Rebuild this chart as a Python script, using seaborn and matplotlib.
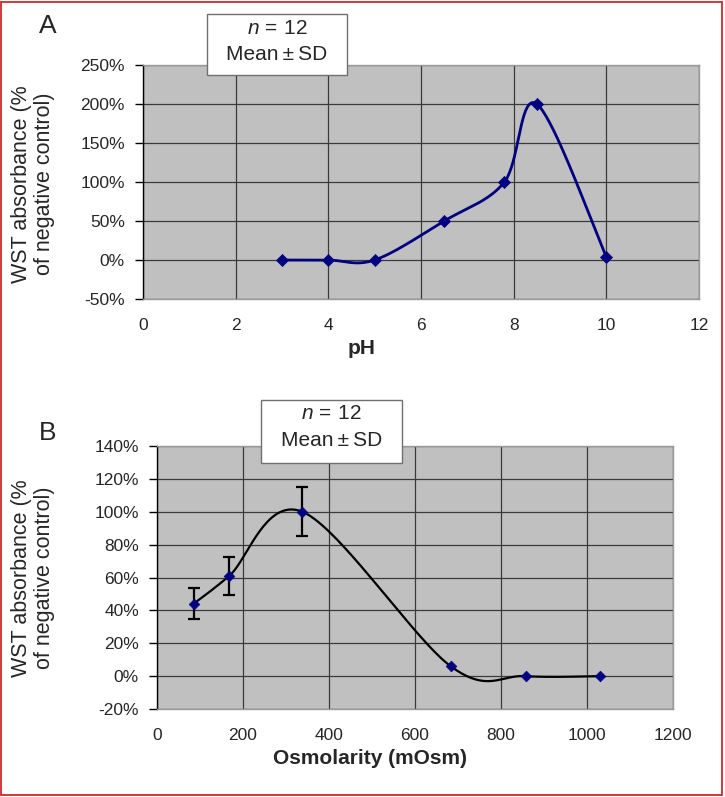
import numpy as np
import pandas as pd
import seaborn as sns
import matplotlib.pyplot as plt
from matplotlib.patches import Rectangle
from matplotlib.ticker import PercentFormatter, MultipleLocator

# panel A: pH series
ph = [3, 4, 5, 6.5, 7.8, 8.5, 10]
ph_abs = [0, 0, 0, 50, 100, 200, 4]

# panel B: osmolarity series
osm = [85, 168, 338, 683, 857, 1030]
osm_abs = [44, 61, 100, 6, 0, 0]
osm_sd = [9.5, 11.5, 15, 0, 0, 0]

sns.set_theme(style='white')
plt.rcParams['font.family'] = ['Liberation Sans', 'DejaVu Sans']
plt.rcParams['mathtext.fontset'] = 'custom'
plt.rcParams['mathtext.it'] = 'Liberation Sans:italic'
plt.rcParams['mathtext.rm'] = 'Liberation Sans'
plt.rcParams['axes.unicode_minus'] = False


def excel_smooth(x, y, n=40):
    # Excel-style smoothed line (Catmull-Rom Bezier through the points)
    pts = np.column_stack([x, y]).astype(float)
    out = []
    for i in range(len(pts) - 1):
        p0 = pts[i - 1] if i > 0 else pts[i]
        p3 = pts[i + 2] if i + 2 < len(pts) else pts[i + 1]
        p1, p2 = pts[i], pts[i + 1]
        c1 = p1 + (p2 - p0) / 6
        c2 = p2 - (p3 - p1) / 6
        t = np.linspace(0, 1, n)[:, None]
        seg = (1 - t)**3 * p1 + 3 * (1 - t)**2 * t * c1 + 3 * (1 - t) * t**2 * c2 + t**3 * p2
        out.append(seg if i == 0 else seg[1:])
    s = np.vstack(out)
    return pd.DataFrame({'x': s[:, 0], 'y': s[:, 1]})


def style_axes(ax, xlim, ylim, xstep, ystep):
    ax.set_facecolor('#c0c0c0')
    ax.set_xlim(*xlim)
    ax.set_ylim(*ylim)
    ax.xaxis.set_major_locator(MultipleLocator(xstep))
    ax.yaxis.set_major_locator(MultipleLocator(ystep))
    ax.yaxis.set_major_formatter(PercentFormatter(xmax=100, decimals=0))
    ax.grid(True, color='#3a3a3a', lw=0.9)
    ax.set_axisbelow(True)
    for s in ['top', 'right', 'bottom']:
        ax.spines[s].set_color('#9a9a9a')
        ax.spines[s].set_linewidth(1)
    ax.spines['left'].set_color('black')
    ax.spines['left'].set_linewidth(1)
    ax.tick_params(axis='y', direction='out', length=6, width=1, color='black',
                   left=True, labelsize=12.5, pad=7)
    ax.tick_params(axis='x', length=0, labelsize=12.5, pad=14)


fig = plt.figure(figsize=(7.25, 7.97), dpi=100)

# ---- panel A
axA = fig.add_axes([0.1972, 0.6248, 0.7669, 0.2936])
style_axes(axA, (0, 12), (-50, 250), 2, 50)
curveA = excel_smooth(ph, ph_abs)
sns.lineplot(data=curveA, x='x', y='y', sort=False, estimator=None,
             color='#000080', lw=2, ax=axA)
sns.scatterplot(x=ph, y=ph_abs, marker='D', s=38, color='#000080',
                edgecolor='#000080', ax=axA, zorder=5)
axA.set_xlabel('')
axA.set_ylabel('')

# ---- panel B
axB = fig.add_axes([0.2166, 0.1104, 0.7117, 0.33])
style_axes(axB, (0, 1200), (-20, 140), 200, 20)
curveB = excel_smooth(osm, osm_abs)
sns.lineplot(data=curveB, x='x', y='y', sort=False, estimator=None,
             color='black', lw=1.6, ax=axB)
axB.errorbar(osm[:3], osm_abs[:3], yerr=osm_sd[:3], fmt='none', ecolor='black',
             elinewidth=1.6, capsize=4, capthick=1.6, zorder=4)
sns.scatterplot(x=osm, y=osm_abs, marker='D', s=30, color='#000080',
                edgecolor='#000080', ax=axB, zorder=5)
axB.set_xlabel('')
axB.set_ylabel('')

W, H = 725, 797


def fx(px):
    return px / W


def fy(py):
    return 1 - py / H


# panel letters
fig.text(fx(48), fy(26), 'A', fontsize=19, ha='center', va='center')
fig.text(fx(48), fy(433), 'B', fontsize=19, ha='center', va='center')

# y labels
ylab = 'WST absorbance (%\nof negative control)'
fig.text(fx(33), fy(184), ylab, rotation=90, fontsize=15.5, ha='center',
         va='center', linespacing=1.12)
fig.text(fx(33), fy(578), ylab, rotation=90, fontsize=15.5, ha='center',
         va='center', linespacing=1.12)

# x labels
fig.text(fx(362), fy(349), 'pH', fontsize=15, fontweight='bold',
         ha='center', va='center')
fig.text(fx(370), fy(758), 'Osmolarity (mOsm)', fontsize=15, fontweight='bold',
         ha='center', va='center')

# n / mean boxes
for (x0, y0, x1, y1) in [(207, 14, 347, 75), (261, 400, 402, 463)]:
    fig.add_artist(Rectangle((fx(x0), fy(y1)), fx(x1) - fx(x0), fy(y0) - fy(y1),
                             transform=fig.transFigure, facecolor='white',
                             edgecolor='#707070', lw=1, zorder=10))
    cx = fx((x0 + x1) / 2)
    fig.text(cx, fy(y0 + 14), '$n\\,=\\,$12', fontsize=15, ha='center',
             va='center', zorder=11)
    fig.text(cx, fy(y0 + 41), 'Mean\u2009±\u2009SD', fontsize=15, ha='center',
             va='center', zorder=11)

# red frame around the figure
fig.add_artist(Rectangle((0.002, 0.003), 0.994, 0.995, transform=fig.transFigure,
                         fill=False, edgecolor='#cc2a2a', lw=1.3))

fig.savefig('out.png', dpi=100)
